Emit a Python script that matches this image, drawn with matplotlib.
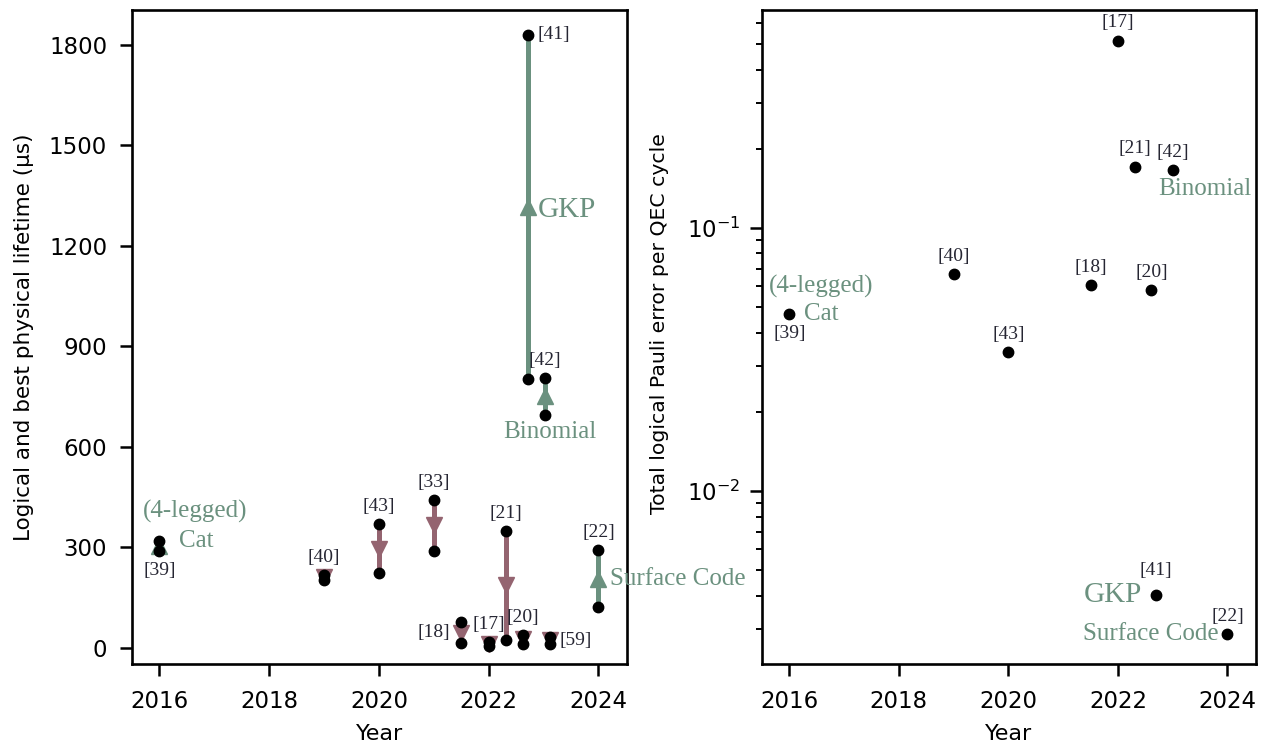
import matplotlib
matplotlib.use('Agg')
import matplotlib.pyplot as plt

plt.rcParams.update({
    'font.family': 'DejaVu Sans',
    'font.size': 16.5,
    'axes.linewidth': 1.9,
    'xtick.major.width': 1.8,
    'ytick.major.width': 1.8,
    'ytick.minor.width': 1.4,
    'xtick.major.size': 8.4,
    'ytick.major.size': 8.4,
    'ytick.minor.size': 4,
    'xtick.major.pad': 10.5,
    'ytick.major.pad': 9.5,
    'xtick.labelsize': 16.5,
    'ytick.labelsize': 16.5,
})

GREEN = '#6b917f'
RED = '#946470'
REF_COLOR = '#262633'
SERIF = 'Liberation Serif'
REF_SIZE = 14
FAM_SIZE = 18

# ---- left panel: best physical vs logical lifetime (us) ----
life_refs = ['[39]', '[40]', '[43]', '[33]', '[18]', '[17]', '[21]', '[20]', '[41]', '[42]', '[59]', '[22]']
life_years = [2016.0, 2019.0, 2020.0, 2021.0, 2021.5, 2022.0, 2022.32, 2022.62, 2022.71, 2023.02, 2023.11, 2024.0]
physical = [290, 218, 369, 442, 78, 17, 349, 39, 803, 695, 34, 121]
logical = [319, 203, 223, 290, 14, 7, 24, 12, 1830, 807, 12, 292]

# ---- right panel: logical error per QEC cycle ----
err_refs = ['[39]', '[40]', '[43]', '[18]', '[17]', '[21]', '[20]', '[41]', '[42]', '[22]']
err_years = [2016.0, 2019.0, 2020.0, 2021.5, 2022.0, 2022.31, 2022.61, 2022.7, 2023.0, 2024.0]
err_vals = [0.047, 0.0667, 0.0337, 0.0605, 0.515, 0.171, 0.058, 0.00402, 0.166, 0.00285]

fig = plt.figure(figsize=(12.61, 7.43), dpi=100)
ax1 = fig.add_axes([0.1047, 0.1063, 0.3925, 0.8802])
ax2 = fig.add_axes([0.6043, 0.1063, 0.3917, 0.8802])

# where each reference tag sits: (anchor, dx, dy, ha) in points
left_tag_pos = {'[39]': ('low', 0, -14, 'center'), '[41]': ('high', 7, 0, 'left'),
                '[18]': ('mid', -8, 0, 'right'), '[59]': ('mid', 7, 0, 'left')}

for ref, yr, p, l in zip(life_refs, life_years, physical, logical):
    color = GREEN if l > p else RED
    mid = 0.5 * (p + l)
    ax1.plot([yr, yr], [p, l], color=color, lw=3.6, solid_capstyle='butt', zorder=2)
    ax1.plot(yr, mid, marker='^' if l > p else 'v', color=color, ms=11, zorder=2)
    ax1.plot([yr, yr], [p, l], 'o', color='black', ms=7.5, zorder=3)
    where, dx, dy, ha = left_tag_pos.get(ref, ('high', 0, 12.5, 'center'))
    y = {'high': max(p, l), 'low': min(p, l), 'mid': mid}[where]
    ax1.annotate(ref, (yr, y), xytext=(dx, dy), textcoords='offset points',
                 ha=ha, va='center', fontsize=REF_SIZE, family=SERIF, color=REF_COLOR)

# code family names, left panel
lv = dict(zip(life_refs, zip(life_years, physical, logical)))
yr, p, l = lv['[41]']
ax1.annotate('GKP', (yr, (p + l) / 2), xytext=(7, -2), textcoords='offset points',
             ha='left', va='center', fontsize=21, family=SERIF, color=GREEN)
yr, p, l = lv['[42]']
ax1.annotate('Binomial', (yr, min(p, l)), xytext=(3.4, -12), textcoords='offset points',
             ha='center', va='center', fontsize=FAM_SIZE, family=SERIF, color=GREEN)
yr, p, l = lv['[39]']
ax1.annotate('Cat', (yr, max(p, l)), xytext=(14, 0), textcoords='offset points',
             ha='left', va='center', fontsize=FAM_SIZE, family=SERIF, color=GREEN)
ax1.annotate('(4-legged)', (yr, max(p, l)), xytext=(26, 21), textcoords='offset points',
             ha='center', va='center', fontsize=FAM_SIZE, family=SERIF, color=GREEN)
yr, p, l = lv['[22]']
ax1.annotate('Surface Code', (yr, (p + l) / 2), xytext=(8.5, 0), textcoords='offset points',
             ha='left', va='center', fontsize=FAM_SIZE, family=SERIF, color=GREEN)

ax1.set_xlim(2015.5, 2024.52)
ax1.set_ylim(-48, 1904)
ax1.set_yticks([0, 300, 600, 900, 1200, 1500, 1800])
ax1.set_xticks([2016, 2018, 2020, 2022, 2024])
ax1.set_xlabel('Year', fontsize=16, labelpad=8)
ax1.set_ylabel('Logical and best physical lifetime (μs)', fontsize=15.5)
ax1.yaxis.set_label_coords(-0.198, 0.5)

# ---- right panel ----
right_tag_pos = {'[39]': (0, -13.7), '[41]': (0, 18)}
ax2.plot(err_years, err_vals, 'o', color='black', ms=7.5, zorder=3)
for ref, yr, v in zip(err_refs, err_years, err_vals):
    dx, dy = right_tag_pos.get(ref, (0, 13))
    ax2.annotate(ref, (yr, v), xytext=(dx, dy), textcoords='offset points',
                 ha='center', va='center', fontsize=REF_SIZE, family=SERIF, color=REF_COLOR)

ev = dict(zip(err_refs, zip(err_years, err_vals)))
ax2.annotate('Binomial', ev['[42]'], xytext=(23, -13.7), textcoords='offset points',
             ha='center', va='center', fontsize=FAM_SIZE, family=SERIF, color=GREEN)
ax2.annotate('(4-legged)', ev['[39]'], xytext=(23, 20), textcoords='offset points',
             ha='center', va='center', fontsize=FAM_SIZE, family=SERIF, color=GREEN)
ax2.annotate('Cat', ev['[39]'], xytext=(10.5, 0), textcoords='offset points',
             ha='left', va='center', fontsize=FAM_SIZE, family=SERIF, color=GREEN)
ax2.annotate('GKP', ev['[41]'], xytext=(-10, 0), textcoords='offset points',
             ha='right', va='center', fontsize=21, family=SERIF, color=GREEN)
ax2.annotate('Surface Code', ev['[22]'], xytext=(-6.5, 0), textcoords='offset points',
             ha='right', va='center', fontsize=FAM_SIZE, family=SERIF, color=GREEN)

ax2.set_yscale('log')
ax2.set_xlim(2015.5, 2024.52)
ax2.set_ylim(0.0022, 0.674)
ax2.set_xticks([2016, 2018, 2020, 2022, 2024])
ax2.tick_params(axis='y', which='major', pad=7)
ax2.set_xlabel('Year', fontsize=16, labelpad=8)
ax2.set_ylabel('Total logical Pauli error per QEC cycle', fontsize=14.7)
ax2.yaxis.set_label_coords(-0.188, 0.52)

fig.savefig('out.png', dpi=100)
